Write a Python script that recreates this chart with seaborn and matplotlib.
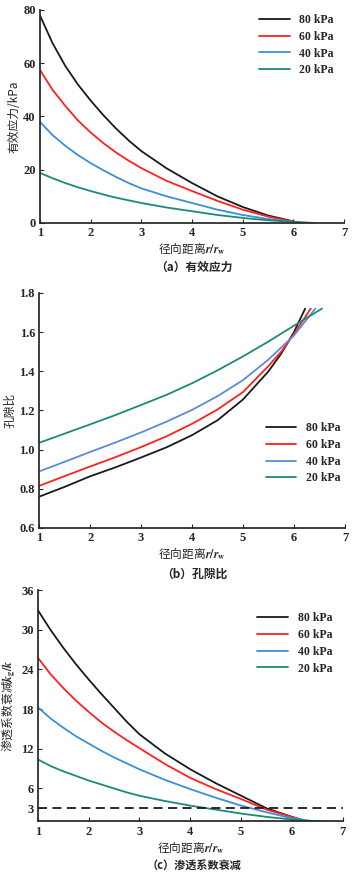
import matplotlib
matplotlib.use("Agg")
import matplotlib.pyplot as plt
import seaborn as sns
import pandas as pd

sns.set_theme(style="ticks")
plt.rcParams['font.family'] = ['Liberation Serif', 'Noto Sans CJK SC']
plt.rcParams['mathtext.fontset'] = 'stix'
plt.rcParams['font.weight'] = 'bold'

# Datos
cargas = ['80 kPa', '60 kPa', '40 kPa', '20 kPa']

# (a) tensión efectiva
xs_a = [1, 1.25, 1.5, 1.75, 2, 2.25, 2.5, 2.75, 3, 3.5, 4, 4.5, 5, 5.5, 6]
x_a = {
    '80 kPa': xs_a + [6.1],
    '60 kPa': xs_a + [6.15],
    '40 kPa': xs_a + [6.25],
    '20 kPa': xs_a + [6.4],
}
y_a = {
    '80 kPa': [78, 67.5, 59, 52, 46, 40.5, 35.5, 31, 27, 20.5, 15, 10, 6, 2.8, 0.6, 0],
    '60 kPa': [57.5, 50, 44, 38.5, 34, 30, 26.5, 23.4, 20.6, 15.8, 12, 8.3, 5, 2.4, 0.5, 0],
    '40 kPa': [38, 33, 29, 25.5, 22.5, 19.8, 17.3, 15, 13, 10, 7.5, 5, 3, 1.5, 0.4, 0],
    '20 kPa': [18.8, 16.8, 15, 13.4, 12, 10.7, 9.5, 8.5, 7.5, 5.8, 4.4, 3, 1.9, 1, 0.4, 0],
}

# (b) relación de vacíos
x_b = {
    '80 kPa': [1, 1.5, 2, 2.5, 3, 3.5, 4, 4.5, 5, 5.5, 5.75, 6, 6.22],
    '60 kPa': [1, 1.5, 2, 2.5, 3, 3.5, 4, 4.5, 5, 5.5, 5.75, 6, 6.33],
    '40 kPa': [1, 1.5, 2, 2.5, 3, 3.5, 4, 4.5, 5, 5.5, 6, 6.42],
    '20 kPa': [1, 1.5, 2, 2.5, 3, 3.5, 4, 4.5, 5, 5.5, 6, 6.55],
}
y_b = {
    '80 kPa': [0.76, 0.81, 0.864, 0.91, 0.96, 1.012, 1.074, 1.15, 1.256, 1.40, 1.49, 1.60, 1.72],
    '60 kPa': [0.815, 0.865, 0.914, 0.962, 1.013, 1.068, 1.132, 1.205, 1.294, 1.427, 1.50, 1.59, 1.72],
    '40 kPa': [0.889, 0.938, 0.988, 1.037, 1.088, 1.143, 1.203, 1.273, 1.355, 1.46, 1.583, 1.72],
    '20 kPa': [1.035, 1.082, 1.129, 1.177, 1.228, 1.28, 1.339, 1.405, 1.476, 1.552, 1.633, 1.72],
}

# (c) atenuación de permeabilidad
xs_c = [1, 1.25, 1.5, 1.75, 2, 2.25, 2.5, 2.75, 3, 3.5, 4, 4.5, 5, 5.5, 6]
x_c = {
    '80 kPa': xs_c + [6.3],
    '60 kPa': xs_c + [6.3],
    '40 kPa': xs_c + [6.4],
    '20 kPa': xs_c + [6.6],
}
y_c = {
    '80 kPa': [33, 30, 27.3, 24.8, 22.5, 20.3, 18.2, 16.1, 14.2, 11.3, 8.9, 6.8, 4.9, 3.0, 1.7, 1],
    '60 kPa': [25.8, 23.3, 21.2, 19.3, 17.6, 16, 14.6, 13.3, 12.1, 9.7, 7.6, 5.9, 4.4, 2.8, 1.7, 1],
    '40 kPa': [18.3, 16.6, 15.2, 13.9, 12.8, 11.7, 10.7, 9.8, 8.9, 7.3, 5.9, 4.6, 3.4, 2.4, 1.5, 1],
    '20 kPa': [10.4, 9.4, 8.6, 7.9, 7.2, 6.6, 6.0, 5.4, 4.9, 4.1, 3.4, 2.8, 2.2, 1.7, 1.3, 1],
}
umbral_c = 3


def to_df(xs, ys):
    filas = []
    for c in cargas:
        for xv, yv in zip(xs[c], ys[c]):
            filas.append({'x': xv, 'y': yv, 'carga': c})
    return pd.DataFrame(filas)


pal_ac = {'80 kPa': '#1a1a1a', '60 kPa': '#ff2020', '40 kPa': '#3a8fd6', '20 kPa': '#1b8a78'}
pal_b = {'80 kPa': '#1a1a1a', '60 kPa': '#ff2020', '40 kPa': '#5b8cd2', '20 kPa': '#1b8a78'}

cjk = ['Noto Sans CJK SC', 'Liberation Serif']
fig = plt.figure(figsize=(3.53, 8.73), dpi=100)

ax_a = fig.add_axes([0.113, 0.7446, 0.862, 0.244])
ax_b = fig.add_axes([0.111, 0.3952, 0.866, 0.2692])
ax_c = fig.add_axes([0.107, 0.059, 0.864, 0.265])

paneles = [
    (ax_a, to_df(x_a, y_a), pal_ac),
    (ax_b, to_df(x_b, y_b), pal_b),
    (ax_c, to_df(x_c, y_c), pal_ac),
]
for ax, df, pal in paneles:
    sns.lineplot(data=df, x='x', y='y', hue='carga', hue_order=cargas, palette=pal,
                 estimator=None, sort=False, linewidth=1.3, ax=ax)
    ax.set_xlim(1, 7)
    ax.set_xticks(range(1, 8))
    sns.despine(ax=ax)
    ax.tick_params(direction='in', length=3, width=0.8, labelsize=9, pad=3)
    ax.set_xlabel('径向距离$r/r_{\\rm w}$', fontsize=8.5, family=cjk, fontweight='normal', labelpad=1)

ax_a.set_ylim(0, 80)
ax_a.set_yticks([0, 20, 40, 60, 80])
ax_a.set_ylabel('有效应力/kPa', fontsize=8.5, family=['Noto Sans CJK SC'], labelpad=2)
ax_a.legend(loc='upper right', frameon=False, fontsize=8.5, handlelength=2.6,
            labelspacing=0.4, bbox_to_anchor=(1.0, 1.03))

ax_b.set_ylim(0.6, 1.8)
ax_b.set_yticks([0.6, 0.8, 1.0, 1.2, 1.4, 1.6, 1.8])
ax_b.set_yticklabels(['0.6', '0.8', '1.0', '1.2', '1.4', '1.6', '1.8'])
ax_b.set_ylabel('孔隙比', fontsize=8.5, family=cjk, labelpad=2)
ax_b.legend(loc='lower right', frameon=False, fontsize=8.5, handlelength=2.6,
            labelspacing=0.4, bbox_to_anchor=(1.02, 0.14))

ax_c.axhline(umbral_c, color='#1a1a1a', linestyle=(0, (5, 3)), linewidth=1.3)
ax_c.set_ylim(1, 36)
ax_c.set_yticks([3, 6, 12, 18, 24, 30, 36])
ax_c.set_ylabel('渗透系数衰减$k_{\\rm g}/k$', fontsize=8.5, family=cjk, labelpad=2)
ax_c.legend(loc='upper right', frameon=False, fontsize=8.5, handlelength=2.6,
            labelspacing=0.4, bbox_to_anchor=(1.0, 0.95))

fig.text(0.55, 1 - 267 / 873, '（a）有效应力', ha='center', va='center', fontsize=8.5, family=cjk)
fig.text(0.55, 1 - 574 / 873, '（b）孔隙比', ha='center', va='center', fontsize=8.5, family=cjk)
fig.text(0.55, 1 - 866 / 873, '（c）渗透系数衰减', ha='center', va='center', fontsize=8, family=cjk)

fig.savefig('out.png', dpi=100)
